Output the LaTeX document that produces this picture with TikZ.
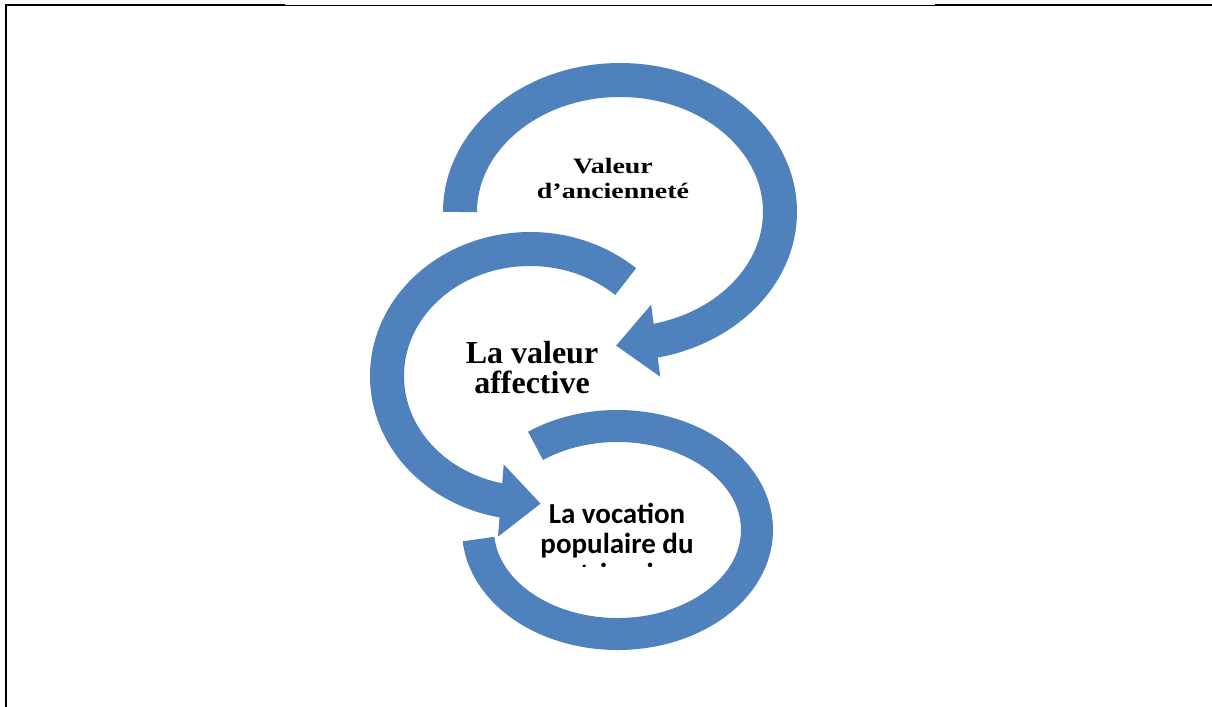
\documentclass[tikz,border=0pt]{standalone}
\usepackage{fontspec}
\setmainfont{Liberation Serif}
\newfontfamily\widefont[FakeStretch=1.27]{Liberation Serif}
\newfontfamily\calfont{Carlito}
\usetikzlibrary{arrows.meta}
\definecolor{ringblue}{HTML}{4F81BD}

\begin{document}
\begin{tikzpicture}[x=0.5pt, y=-0.5pt,
	ring/.style={draw=ringblue, line width=17pt},
	tip/.style={-{Triangle[length=20pt, width=35pt]}},
	anctext/.style={font=\widefont\bfseries\fontsize{11}{12.5}\selectfont, align=center, inner sep=0pt},
	afftext/.style={font=\bfseries\fontsize{16}{15}\selectfont, align=center, inner sep=0pt},
	voctext/.style={font=\calfont\bfseries\fontsize{14.5}{15}\selectfont, align=center, inner sep=0pt}]

\def\width{1212}
\def\height{707}

\path [use as bounding box] (0,0) rectangle (\width,\height);

% FRAME
\draw [line width=1pt] (6,\height) -- (6,5) -- (285,5);
\draw [line width=0.5pt] (285,5) -- (935,5);
\draw [line width=1pt] (935,5) -- (\width,5);

% CENTRES
\coordinate (c1) at (620,212);
\coordinate (c2) at (530,376);
\coordinate (c3) at (617.5,530);

% RINGS
\draw [ring, line width=16pt] (c3) ++(234:139.5 and 104) arc[start angle=234, end angle=535, x radius=139.5, y radius=104];
\draw [ring, tip] (c2) ++(312:143 and 127) arc[start angle=312, end angle=101, x radius=143, y radius=127] -- ++(38,3);
\draw [ring, tip] (c1) ++(180:160 and 132) arc[start angle=180, end angle=437, x radius=160, y radius=132] -- ++(-40,5);

% LABELS
\node [anctext, anchor=base] (anc) at (613,198) {Valeur\\d’ancienneté};
\node [afftext, anchor=base] (aff) at (532,393) {La valeur\\affective};
\begin{scope}
\clip (520,480) rectangle (720,566);
\node [voctext, anchor=base] (voc) at (617,583) {La vocation\\populaire du\\patrimoine};
\end{scope}

\end{tikzpicture}
\end{document}
